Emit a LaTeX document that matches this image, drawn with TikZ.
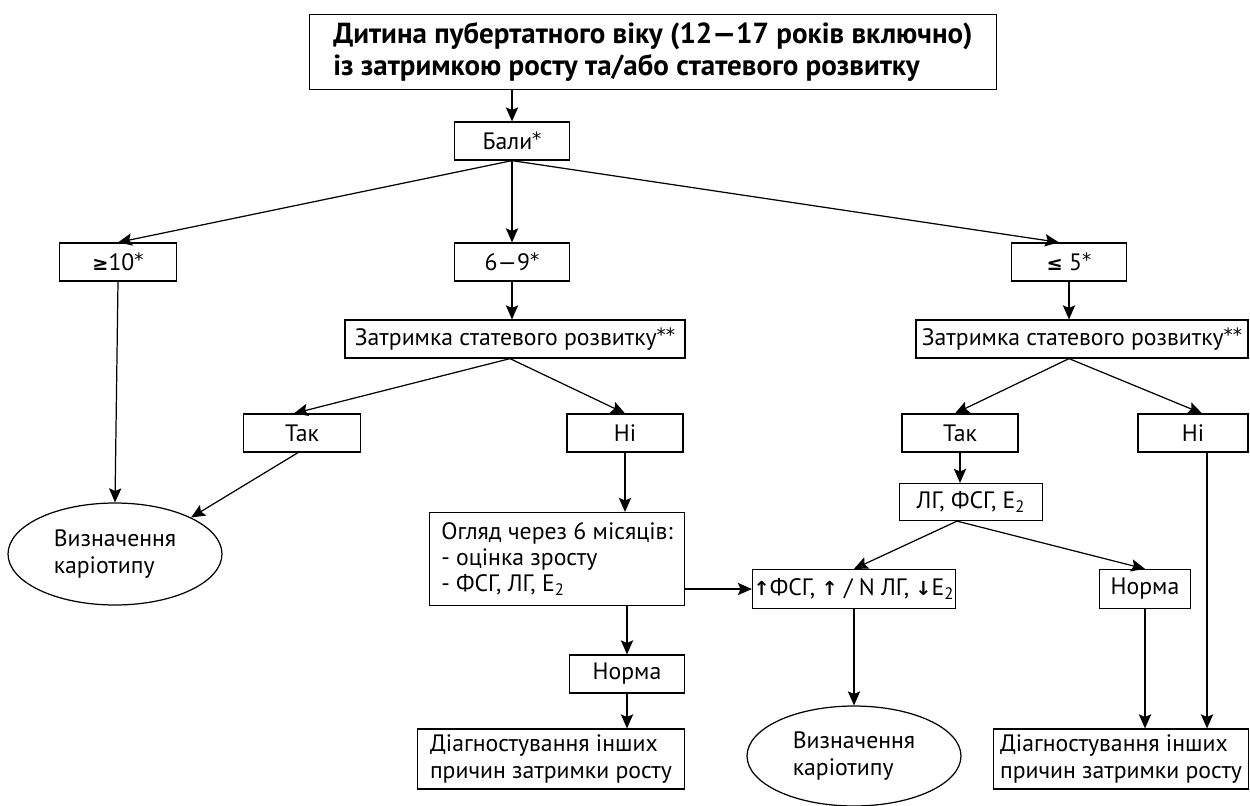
\documentclass[tikz,border=0pt]{standalone}
\usepackage{fontspec}
\setmainfont{PT Sans}
\newfontfamily\symf{DejaVu Sans}
\usetikzlibrary{arrows.meta,shapes.geometric,calc}
\tikzset{
  base/.style={draw, line width=0.7pt, inner sep=0pt, font=\fontsize{13.5}{15}\selectfont},
  box/.style={base, rectangle, minimum height=0.76cm},
  oval/.style={base, ellipse, align=left},
  arr/.style={line width=0.7pt, -{Stealth[length=8pt,width=7pt,inset=1.5pt]}},
  ln/.style={line width=0.7pt}
}
\newcommand{\sub}[1]{\textsubscript{#1}}
\newcommand{\myast}{\raisebox{2pt}{\symf\fontsize{10.5}{12}\selectfont *}}
\newcommand{\arrsym}[1]{{\symf\bfseries\fontsize{11}{12}\selectfont #1}}
\begin{document}
\begin{tikzpicture}[x=0.02cm,y=-0.02cm]
\useasboundingbox (0,0) rectangle (1250,805);
% nodes
\node[box, minimum width=13.74cm, minimum height=1.5cm, align=left,
      font=\fontsize{16.5}{18.5}\selectfont\bfseries] (title) at (653,52)
  {Дитина пубертатного віку (12—17 років включно)\\із затримкою росту та/або статевого розвитку};
\node[box, minimum width=2.3cm] (bali) at (512,141) {Бали\myast};
\node[box, minimum width=2.34cm] (ge10) at (118,262) {\arrsym{≥}10\myast};
\node[box, minimum width=2.3cm] (six) at (512,262) {6—9\myast};
\node[box, minimum width=2.3cm] (le5) at (1069,262) {\arrsym{≤} 5\myast};
\node[box, minimum width=6.8cm] (zat1) at (515,339) {Затримка статевого розвитку\myast\myast};
\node[box, minimum width=6.64cm] (zat2) at (1082,339) {Затримка статевого розвитку\myast\myast};
\node[box, minimum width=2.34cm] (tak1) at (302,433) {Так};
\node[box, minimum width=2.32cm] (ni1) at (625,433) {Ні};
\node[box, minimum width=2.32cm] (tak2) at (960,433) {Так};
\node[box, minimum width=2.2cm] (ni2) at (1193,433) {Ні};
\node[oval, minimum width=4.28cm, minimum height=2.04cm] (ell1) at (115,554) {Визначення\\каріотипу};
\node[box, minimum width=5.1cm, minimum height=1.86cm, align=left] (ohl) at (557,559)
  {Огляд через 6 місяців:\\- оцінка зросту\\- ФСГ, ЛГ, Е\sub{2}};
\node[box, minimum width=2.86cm, minimum height=0.74cm] (lg) at (971,502) {ЛГ, ФСГ, Е\sub{2}};
\node[box, minimum width=4.06cm, minimum height=0.78cm] (fsg) at (854,589)
  {\arrsym{↑}ФСГ, \arrsym{↑} / N ЛГ, \arrsym{↓}Е\sub{2}};
\node[box, minimum width=1.82cm, minimum height=0.78cm] (norm2) at (1145,589) {Норма};
\node[box, minimum width=2.3cm] (norm1) at (627,674) {Норма};
\node[box, minimum width=5.34cm, minimum height=1.2cm, align=left] (diag1) at (551,759)
  {Діагностування інших\\причин затримки росту};
\node[oval, minimum width=4.28cm, minimum height=2.0cm] (ell2) at (854,756) {Визначення\\каріотипу};
\node[box, minimum width=5.1cm, minimum height=1.2cm, align=left] (diag2) at (1121,759)
  {Діагностування інших\\причин затримки росту};
% connectors
\draw[arr] (bali.north |- title.south) -- (bali.north);
\draw[arr] (bali.south) -- (ge10.north);
\draw[arr] (bali.south) -- (six.north);
\coordinate (le5in) at ($(le5.north)+(-10,0)$);
\draw[arr] (bali.south) -- (le5in);
\draw[arr] (six.south) -- (six.south |- zat1.north);
\draw[arr] (ge10.south) -- (ell1.north);
\coordinate (z1s) at ($(zat1.south)+(-5,0)$);
\coordinate (tak1in) at ($(tak1.north)+(-8,0)$);
\draw[arr] (z1s) -- (tak1in);
\draw[arr] (z1s) -- (ni1.north);
\draw[arr] (le5.south) -- (le5.south |- zat2.north);
\coordinate (z2s) at (le5.south |- zat2.south);
\coordinate (tak2in) at ($(tak2.north)+(-5,0)$);
\coordinate (ni2in) at ($(ni2.north)+(9,0)$);
\draw[arr] (z2s) -- (tak2in);
\draw[arr] (z2s) -- (ni2in);
\coordinate (tak1out) at ($(tak1.south)+(-4,0)$);
\draw[arr] (tak1out) -- (ell1.north east);
\draw[arr] (ni1.south) -- (ni1.south |- ohl.north);
\draw[arr] (tak2.south) -- (tak2.south |- lg.north);
\coordinate (lgs) at ($(lg.south)+(-14,0)$);
\draw[arr] (lgs) -- (fsg.north);
\draw[arr] (lgs) -- (norm2.north);
\draw[arr] (ohl.east |- fsg.west) -- (fsg.west);
\draw[arr] (norm1.north |- ohl.south) -- (norm1.north);
\draw[arr] (norm1.south) -- (norm1.south |- diag1.north);
\draw[arr] (fsg.south) -- (ell2.north);
\draw[arr] (norm2.south) -- (norm2.south |- diag2.north);
\coordinate (ni2out) at ($(ni2.south)+(14,0)$);
\draw[arr] (ni2out) -- (ni2out |- diag2.north);
\end{tikzpicture}
\end{document}
